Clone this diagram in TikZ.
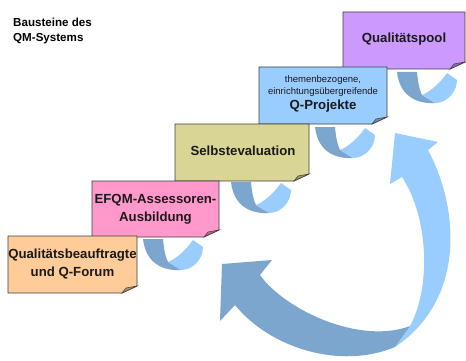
\documentclass[tikz,border=0pt]{standalone}
\usepackage{fontspec}
\setmainfont{Liberation Sans}
\usepackage{xcolor}
\definecolor{note-orange}{HTML}{FFCC99}
\definecolor{note-pink}{HTML}{FF99CC}
\definecolor{note-khaki}{HTML}{D9D594}
\definecolor{note-blue}{HTML}{99CCFF}
\definecolor{note-lilac}{HTML}{CC99FF}
\definecolor{note-border}{HTML}{404040}
\definecolor{note-text}{HTML}{1A1A1A}
\definecolor{ribbon-dark}{HTML}{7CA6CE}
\definecolor{ribbon-light}{HTML}{99CCFF}
\usepackage{tikz}

\tikzset{
    notebox/.style={draw=note-border, line width=0.8pt, line join=miter},
    notefold/.style={draw=note-border, line width=0.5pt},
    notetext/.style={font=\bfseries\fontsize{13.2}{18}\selectfont, text=note-text, align=center, inner sep=0pt},
    curl/.pic={
        \fill[ribbon-dark] (0,0) -- (20,0) .. controls (21,10) and (22,17) .. (25,23) -- (38,31)
            .. controls (22,32) and (3,26) .. (0,0) -- cycle;
        \fill[ribbon-light] (25,23) .. controls (33,20) and (43,11) .. (50,1) -- (60,8)
            .. controls (60,20) and (50,31) .. (38,31) -- cycle;
    }
}

\begin{document}
\begin{tikzpicture}[x=1pt, y=-1pt]

    % Background
    \useasboundingbox[fill=white] (0,0) rectangle (466,361);

    % Title
    \node[font=\bfseries\fontsize{11.6}{15}\selectfont, align=left, anchor=north west, inner sep=0pt] (title) at (13,18) {Bausteine des\\QM-Systems};

    % Curls
    \pic at (143,239) {curl};
    \pic at (231,182) {curl};
    \pic at (315,127) {curl};
    \pic at (397,72) {curl};

    % Qualitaetspool
    \filldraw[notebox, fill=note-lilac] (343,12) -- (465,12) -- (465,62) -- (450,69) -- (343,69) -- cycle;
    \filldraw[notefold, fill=note-lilac!70!black] (450,69) -- (454,64) -- (465,62) -- cycle;
    \node[notetext] (pool) at (404,39) {Qualitätspool};

    % Q-Projekte
    \filldraw[notebox, fill=note-blue] (259,67) -- (387,67) -- (387,117) -- (372,124) -- (259,124) -- cycle;
    \filldraw[notefold, fill=note-blue!70!black] (372,124) -- (376,119) -- (387,117) -- cycle;
    \node[notetext] (projekte) at (323,93.5) {{\mdseries\fontsize{9.5}{12}\selectfont themenbezogene,}\\[-6pt]{\mdseries\fontsize{9.5}{12}\selectfont einrichtungsübergreifende}\\[-3pt]Q-Projekte};

    % Selbstevaluation
    \filldraw[notebox, fill=note-khaki] (175,124) -- (309,124) -- (309,174) -- (294,181) -- (175,181) -- cycle;
    \filldraw[notefold, fill=note-khaki!70!black] (294,181) -- (298,176) -- (309,174) -- cycle;
    \node[notetext] (selbst) at (243,151) {Selbstevaluation};

    % EFQM
    \filldraw[notebox, fill=note-pink] (92,181) -- (219,181) -- (219,230) -- (204,237) -- (92,237) -- cycle;
    \filldraw[notefold, fill=note-pink!70!black] (204,237) -- (208,232) -- (219,230) -- cycle;
    \node[notetext] (efqm) at (155.5,209) {EFQM-Assessoren-\\Ausbildung};

    % Qualitaetsbeauftragte
    \filldraw[notebox, fill=note-orange] (8,236) -- (137,236) -- (137,286) -- (122,293) -- (8,293) -- cycle;
    \filldraw[notefold, fill=note-orange!70!black] (122,293) -- (126,288) -- (137,286) -- cycle;
    \node[notetext] (qb) at (72.5,264.5) {Qualitätsbeauftragte\\und Q-Forum};

    % Cycle arrows
    \fill[ribbon-light] (402,177) -- (390,184) -- (395,133) -- (438,142) -- (428,150)
        .. controls (460,210) and (465,300) .. (395,347) -- (410,326)
        .. controls (430,290) and (430,220) .. (402,177) -- cycle;
    \fill[ribbon-dark] (235,305) -- (220,321) -- (222,264) -- (272,260) -- (260,275)
        .. controls (285,310) and (360,345) .. (410,326) -- (395,347)
        .. controls (340,370) and (270,348) .. (235,305) -- cycle;

\end{tikzpicture}
\end{document}
